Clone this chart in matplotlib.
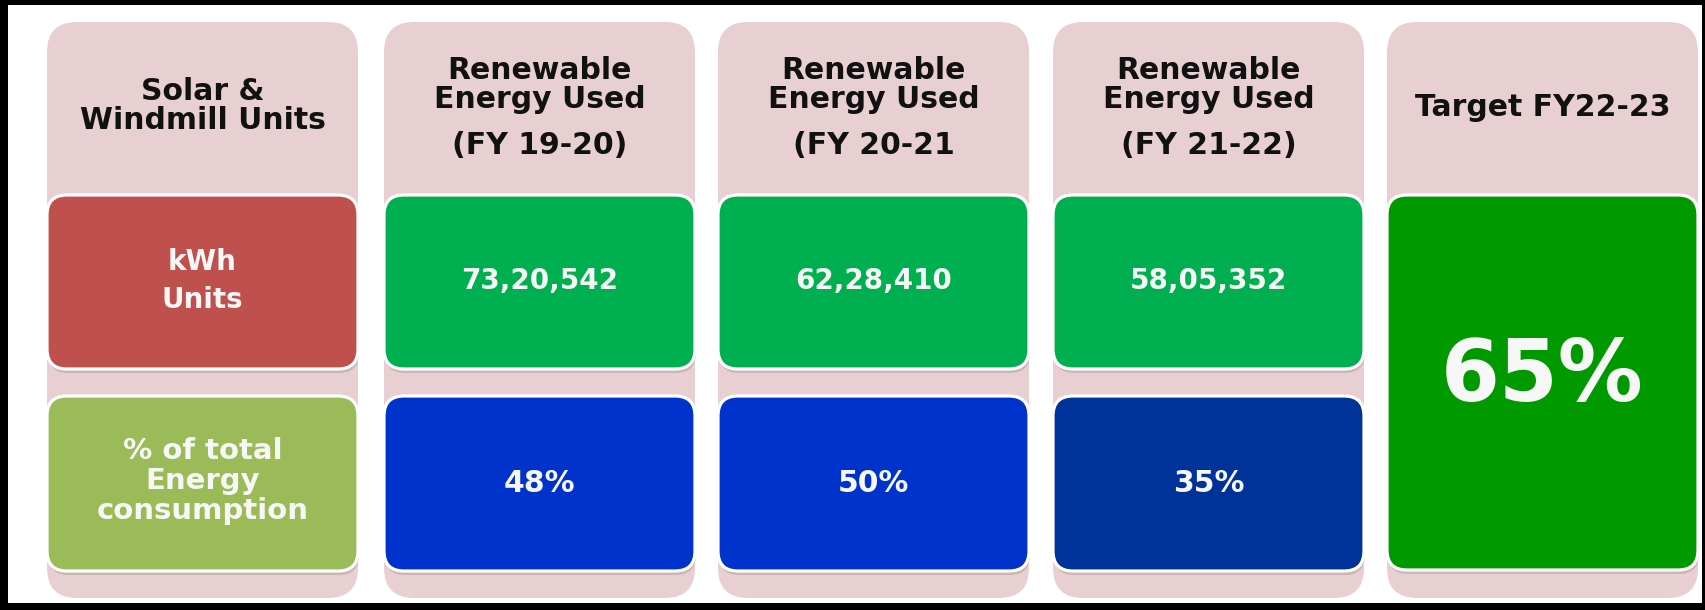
import matplotlib.pyplot as plt
from matplotlib.patches import FancyBboxPatch, Rectangle

plt.rcParams['font.family'] = ['DejaVu Sans']

# table content
col_headers = ['Solar &\nWindmill Units', 'Renewable\nEnergy Used', 'Renewable\nEnergy Used',
               'Renewable\nEnergy Used', 'Target FY22-23']
fy_labels = ['(FY 19-20)', '(FY 20-21', '(FY 21-22)']
row_labels = ['kWh\nUnits', '% of total\nEnergy\nconsumption']
kwh_used = [7320542, 6228410, 5805352]
pct_used = [48, 50, 35]
target_pct = 65

col_fill = '#E8D0D2'
label_colors = ['#C0504D', '#9BBB59']
kwh_color = '#00B050'
pct_colors = ['#0033CC', '#0033CC', '#003399']
target_color = '#009900'


def indian_fmt(n):
    s = str(n)
    head, tail = s[:-3], s[-3:]
    parts = []
    while len(head) > 2:
        parts.insert(0, head[-2:])
        head = head[:-2]
    if head:
        parts.insert(0, head)
    return ','.join(parts + [tail])


fig = plt.figure(figsize=(17.06, 6.10), dpi=100, facecolor='black')
ax = fig.add_axes([0, 0, 1, 1])
ax.set_xlim(0, 1706)
ax.set_ylim(610, 0)
ax.axis('off')

ax.add_patch(Rectangle((8, 5), 1694, 598, facecolor='white', edgecolor='none'))

col_left = [47, 384, 718, 1053, 1387]
col_w = 311
hdr_size = 21.5


def card(x, y, w, h, color, r=20):
    # soft shadow then the white-rimmed card
    ax.add_patch(FancyBboxPatch((x + 1, y + 4), w, h, boxstyle='round,pad=0,rounding_size=%d' % r,
                                facecolor='#b9a4a6', edgecolor='none', alpha=0.6, zorder=2))
    ax.add_patch(FancyBboxPatch((x, y), w, h, boxstyle='round,pad=0,rounding_size=%d' % r,
                                facecolor=color, edgecolor='white', linewidth=2.3, zorder=3))


for i, x0 in enumerate(col_left):
    ax.add_patch(FancyBboxPatch((x0, 22), col_w, 576, boxstyle='round,pad=0,rounding_size=30',
                                facecolor=col_fill, edgecolor='none', zorder=1))
    cx = x0 + col_w / 2
    if i == 0:
        ax.text(cx, 106, col_headers[i], ha='center', va='center', fontsize=hdr_size, fontweight='bold',
                color='#111111', linespacing=1.0, zorder=4)
        card(x0, 195, col_w, 174, label_colors[0])
        ax.text(cx, 281, row_labels[0], ha='center', va='center', fontsize=20, fontweight='bold',
                color='#f7f7f7', linespacing=1.5, zorder=4)
        card(x0, 396, col_w, 175, label_colors[1])
        ax.text(cx, 481, row_labels[1], ha='center', va='center', fontsize=21, fontweight='bold',
                color='#f7f7f7', linespacing=1.07, zorder=4)
    elif i < 4:
        ax.text(cx, 85, col_headers[i], ha='center', va='center', fontsize=hdr_size, fontweight='bold',
                color='#111111', linespacing=1.0, zorder=4)
        ax.text(cx, 145, fy_labels[i - 1], ha='center', va='center', fontsize=hdr_size, fontweight='bold',
                color='#111111', zorder=4)
        card(x0, 195, col_w, 174, kwh_color)
        ax.text(cx, 281, indian_fmt(kwh_used[i - 1]), ha='center', va='center', fontsize=20,
                fontweight='bold', color='#f7f7f7', zorder=4)
        card(x0, 396, col_w, 175, pct_colors[i - 1])
        ax.text(cx, 483, '%d%%' % pct_used[i - 1], ha='center', va='center', fontsize=21.5,
                fontweight='bold', color='#f7f7f7', zorder=4)
    else:
        ax.text(cx, 107, col_headers[i], ha='center', va='center', fontsize=hdr_size, fontweight='bold',
                color='#111111', zorder=4)
        card(x0, 195, col_w, 375, target_color)
        ax.text(cx, 378, '%d%%' % target_pct, ha='center', va='center', fontsize=61,
                fontweight='bold', color='#f7f7f7', zorder=4)

fig.savefig('out.png', dpi=100, facecolor='black')
